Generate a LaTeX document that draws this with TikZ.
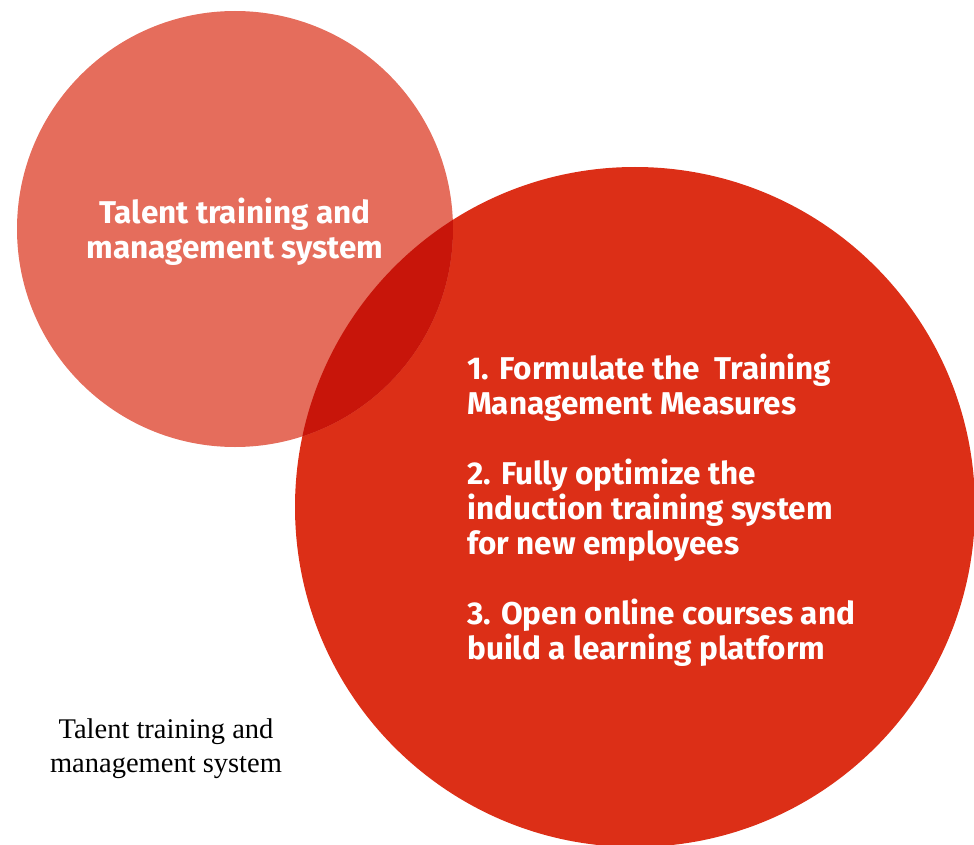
\documentclass[tikz,border=0pt]{standalone}
\usepackage{fontspec}
\setmainfont{Liberation Serif}
\newfontfamily\headfont{Fira Sans}
\usetikzlibrary{positioning}
\definecolor{lightred}{HTML}{E56D5C}
\definecolor{mainred}{HTML}{DC2F17}
\definecolor{darkred}{HTML}{C8150A}

\begin{document}
\begin{tikzpicture}[x=1pt, y=-1pt,
  blob/.style={circle, inner sep=0pt},
  heading/.style={font=\headfont\bfseries\fontsize{31.5}{35}\selectfont, text=white, inner sep=0pt},
  caption/.style={font=\fontsize{28.5}{34}\selectfont, align=center, inner sep=0pt}]
  \useasboundingbox (0,0) rectangle (974,845);
  \node[blob, fill=mainred, minimum size=680pt] (measures) at (635,507) {};
  \node[blob, fill=lightred, minimum size=436pt] (talent) at (235,229) {};
  % overlap of the two circles
  \begin{scope}
    \clip (measures.center) circle (340pt);
    \fill[darkred] (talent.center) circle (218pt);
  \end{scope}
  \node[heading, align=center, anchor=base] (title) at (235,258)
    {Talent training and\\management system};
  \node[heading, align=left, anchor=base west] (steps) at (467,659)
    {1. Formulate the\ \ Training\\Management Measures\\[35pt]
     2. Fully optimize the\\induction training system\\for new employees\\[35pt]
     3. Open online courses and\\build a learning platform};
  \node[caption, anchor=base] (note) at (166,772)
    {Talent training and\\management system};
\end{tikzpicture}
\end{document}
